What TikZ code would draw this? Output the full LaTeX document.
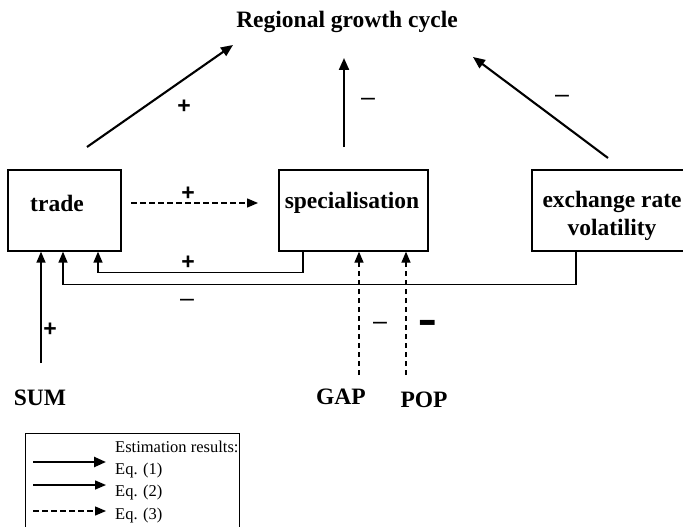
\documentclass[tikz,border=0pt]{standalone}
\usepackage{fontspec}
\setmainfont{Liberation Serif}
\newfontfamily\sansfnt{Liberation Sans}
\usetikzlibrary{arrows.meta}
\begin{document}
\begin{tikzpicture}[x=1pt,y=-1pt,
  box/.style={draw,line width=1.3pt,rectangle,inner sep=0pt},
  lbl/.style={font=\fontsize{23.5}{28}\selectfont\bfseries,inner sep=0pt,align=center},
  sgn/.style={font=\fontsize{23}{26}\selectfont\sansfnt\bfseries,inner sep=0pt},
  msg/.style={font=\fontsize{25}{26}\selectfont\sansfnt,inner sep=0pt},
  leg/.style={font=\fontsize{16.5}{18}\selectfont,inner sep=0pt,anchor=west},
  tip/.style={-{Triangle[length=11pt,width=9pt]}},
  eqone/.style={-{Triangle[length=12pt,width=10pt]},line width=2.1pt},
  eqtwo/.style={tip,line width=1.5pt},
  eqthree/.style={tip,line width=1.3pt,dash pattern=on 5.5pt off 3.5pt}]
\useasboundingbox (0,0) rectangle (683,527);
% title
\node[lbl] (title) at (347,22) {Regional growth cycle};
% boxes
\node[box,minimum width=113pt,minimum height=81pt] (trade) at (64.5,210.5) {};
\node[lbl] (tradet) at (57,203) {trade};
\node[box,minimum width=149pt,minimum height=81pt] (spec) at (353.5,210.5) {};
\node[lbl] (spect) at (352,203) {specialisation};
\node[box,minimum width=160pt,minimum height=81pt] (exch) at (612,210.5) {};
\node[lbl] (excht) at (612,216) {exchange rate\\volatility};
% bottom labels
\node[lbl] (sum) at (40,398) {SUM};
\node[lbl] (gap) at (341,397) {GAP};
\node[lbl] (pop) at (424,400) {POP};
% top arrows
\coordinate (a1s) at (87,147); \coordinate (a1e) at (233,45);
\coordinate (a2s) at (344,147); \coordinate (a2e) at (344,58);
\coordinate (a3s) at (608,158); \coordinate (a3e) at (473,57);
\draw[eqone] (a1s) -- (a1e);
\draw[eqone] (a2s) -- (a2e);
\draw[eqone] (a3s) -- (a3e);
\node[sgn] (p1) at (184,107) {+};
\node[msg] (m1) at (368,102) {–};
\node[msg] (m2) at (562,99) {–};
% trade -> specialisation
\coordinate (d1s) at (131,203); \coordinate (d1e) at (258,203);
\draw[eqthree] (d1s) -- (d1e);
\node[sgn] (p2) at (188,194) {+};
% feedback specialisation -> trade
\draw[eqtwo] ([xshift=-50.5pt]spec.south) -- ++(0,21) -| ([xshift=33.5pt]trade.south);
\node[sgn] (p3) at (188,263) {+};
% exchange -> trade
\draw[eqtwo] ([xshift=-36pt]exch.south) -- ++(0,33) -| ([xshift=-1.5pt]trade.south);
\node[msg] (m3) at (187,303) {–};
% SUM -> trade
\coordinate (sumtop) at (41,363);
\draw[eqtwo] (sumtop) -- ([xshift=-23.5pt]trade.south);
\node[sgn] (p4) at (50,330) {+};
% GAP, POP -> specialisation
\coordinate (gaptop) at (359,375);
\coordinate (poptop) at (406,375);
\draw[eqthree] (gaptop) -- ([xshift=5.5pt]spec.south);
\draw[eqthree] (poptop) -- ([xshift=52.5pt]spec.south);
\node[msg] (m4) at (380,326) {–};
\node[font=\sansfnt\bfseries,inner sep=0pt] (m5) at (428,328) {\scalebox{1.35}[2.3]{\fontsize{22}{24}\selectfont –}};
% legend
\draw[line width=0.9pt] (25,540) -- (25,433) -- (239,433) -- (239,540);
\node[leg] (l0) at (115,447) {Estimation results:};
\node[leg] (l1) at (115,471) {Eq. (1)};
\node[leg] (l2) at (115,493) {Eq. (2)};
\node[leg] (l3) at (115,516) {Eq. (3)};
\coordinate (e1s) at (33,462); \coordinate (e1e) at (106,462);
\coordinate (e2s) at (33,485); \coordinate (e2e) at (106,485);
\coordinate (e3s) at (33,511); \coordinate (e3e) at (106,511);
\draw[eqone,line width=2.4pt] (e1s) -- (e1e);
\draw[eqtwo] (e2s) -- (e2e);
\draw[eqthree] (e3s) -- (e3e);
\end{tikzpicture}
\end{document}
